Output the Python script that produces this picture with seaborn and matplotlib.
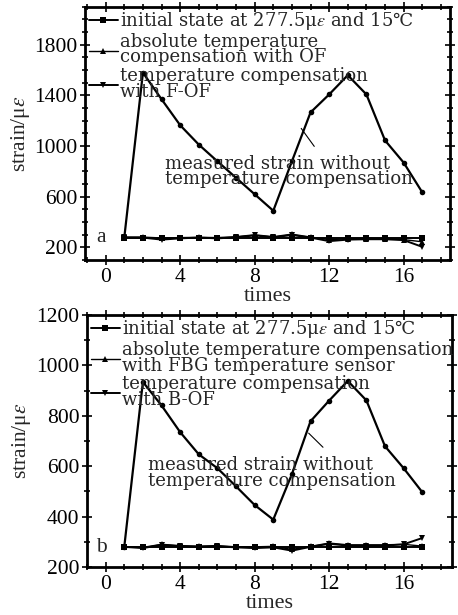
"""
Deformação medida com e sem compensação de temperatura (painéis a e b).
"""

import matplotlib
matplotlib.use("Agg")
import matplotlib.pyplot as plt
from matplotlib.ticker import MultipleLocator
import seaborn as sns

# eixo x comum
times = [1, 2, 3, 4, 5, 6, 7, 8, 9, 10, 11, 12, 13, 14, 15, 16, 17]

# painel a
medido_a = [279, 1580, 1370, 1165, 1012, 880, 750, 620, 490, 880, 1266, 1408, 1560, 1408, 1045, 870, 635]
inicial_a = [277.5, 277.5, 277.5, 277.5, 277.5, 277.5, 277.5, 277.5, 277.5, 277.5, 277.5, 277.5, 277.5, 277.5, 277.5, 277.5, 277.5]
absoluta_a = [280, 282, 275, 278, 280, 278, 285, 300, 285, 305, 282, 262, 268, 270, 268, 262, 245]
fof_a = [280, 278, 262, 272, 278, 272, 280, 295, 280, 298, 278, 250, 262, 265, 265, 258, 205]

# painel b
medido_b = [280, 934, 841, 735, 647, 592, 520, 446, 388, 568, 778, 860, 938, 861, 679, 592, 497]
inicial_b = [277.5, 277.5, 277.5, 277.5, 277.5, 277.5, 277.5, 277.5, 277.5, 277.5, 277.5, 277.5, 277.5, 277.5, 277.5, 277.5, 277.5]
absoluta_b = [280, 278, 290, 285, 283, 285, 280, 280, 282, 270, 282, 295, 288, 288, 288, 290, 283]
bof_b = [280, 275, 288, 282, 280, 282, 278, 275, 278, 265, 280, 292, 285, 285, 285, 290, 315]

rotulos_a = ["initial state at 277.5μ$\\varepsilon$ and 15℃",
             "absolute temperature\ncompensation with OF",
             "temperature compensation\nwith F-OF"]
rotulos_b = ["initial state at 277.5μ$\\varepsilon$ and 15℃",
             "absolute temperature compensation\nwith FBG temperature sensor",
             "temperature compensation\nwith B-OF"]
nota = "measured strain without\ntemperature compensation"

sns.set_theme(style="ticks")
plt.rcParams['font.family'] = ['Liberation Serif', 'DejaVu Sans']
plt.rcParams['mathtext.fontset'] = 'stix'

FS_TICK = 15.5
FS_TXT = 13
FAMILIA_TXT = ['DejaVu Serif', 'DejaVu Sans']


def desenhar(ax, medido, inicial, absoluta, comp, rotulos, letra, ylim, xlim,
             major_y, offset_y, nota_xy, seta):
    sns.lineplot(x=times, y=medido, ax=ax, color="black", marker="o", markersize=4,
                 linewidth=1.6, markeredgewidth=0, label="_nolegend_")
    sns.lineplot(x=times, y=inicial, ax=ax, color="black", marker="s", markersize=4.5,
                 linewidth=1.4, markeredgewidth=0, label=rotulos[0])
    sns.lineplot(x=times, y=absoluta, ax=ax, color="black", marker="^", markersize=5,
                 linewidth=1.0, markeredgewidth=0, label=rotulos[1])
    sns.lineplot(x=times, y=comp, ax=ax, color="black", marker="v", markersize=5,
                 linewidth=1.4, markeredgewidth=0, label=rotulos[2])

    ax.set_xlim(*xlim)
    ax.set_ylim(*ylim)
    ax.xaxis.set_major_locator(MultipleLocator(4))
    ax.xaxis.set_minor_locator(MultipleLocator(1))
    ax.yaxis.set_major_locator(MultipleLocator(major_y, offset=offset_y))
    ax.yaxis.set_minor_locator(MultipleLocator(100))
    ax.tick_params(which="both", direction="inout", top=True, right=True,
                   labelsize=FS_TICK, width=1.2, pad=2, colors="black")
    ax.tick_params(which="major", length=7)
    ax.tick_params(which="minor", length=4)
    for sp in ax.spines.values():
        sp.set_linewidth(2)
        sp.set_color("black")

    ax.set_xlabel("times", fontsize=16, labelpad=0)
    ax.set_ylabel("strain/μ$\\varepsilon$", fontsize=FS_TICK, labelpad=2)

    leg = ax.legend(loc="upper left", frameon=False,
                    prop={"family": FAMILIA_TXT, "size": FS_TXT},
                    handlelength=1.6, handletextpad=0.15, labelspacing=0.05,
                    borderaxespad=0.1, borderpad=0.1)
    for t in leg.get_texts():
        t.set_linespacing(0.8)

    ax.text(nota_xy[0], nota_xy[1], nota, fontsize=FS_TXT, family=FAMILIA_TXT,
            ha="left", va="center", linespacing=0.85)
    ax.plot([seta[0][0], seta[1][0]], [seta[0][1], seta[1][1]], color="black", linewidth=0.8)
    ax.text(-0.25, inicial[0], letra, fontsize=FS_TICK, ha="center", va="center")


fig = plt.figure(figsize=(4.58, 6.15), dpi=100)
ax_a = fig.add_axes([0.186, 0.577, 0.797, 0.412])
ax_b = fig.add_axes([0.19, 0.078, 0.797, 0.41])

desenhar(ax_a, medido_a, inicial_a, absoluta_a, fof_a, rotulos_a, "a",
         (100, 2100), (-1.1, 18.5), 400, 200, (3.2, 800), ((10.5, 1140), (11.2, 998)))
desenhar(ax_b, medido_b, inicial_b, absoluta_b, bof_b, rotulos_b, "b",
         (200, 1200), (-1.0, 18.6), 200, 0, (2.26, 574), ((10.9, 731), (11.67, 675)))

plt.savefig("out.png", dpi=100)
